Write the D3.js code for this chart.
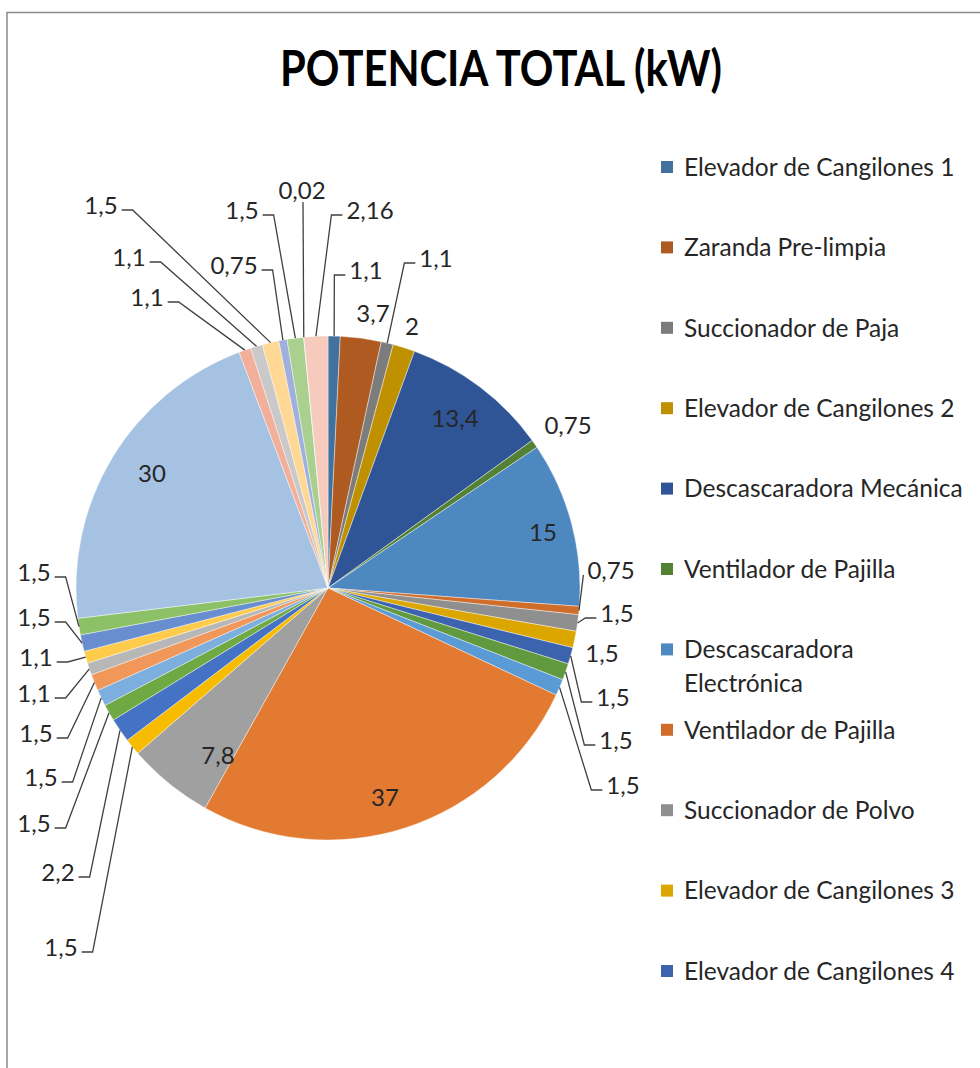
<!DOCTYPE html>
<html>
<head>
<meta charset="utf-8">
<script src="https://cdn.jsdelivr.net/npm/d3@7"></script>
<style>
  html, body { margin: 0; padding: 0; background: #fff; }
  svg { display: block; font-family: Lato, "Open Sans", sans-serif; }
</style>
</head>
<body>
<div id="graph"></div>
<script>
// Data (kW per equipment, clockwise from 12 o'clock)
const values = [1.1, 3.7, 1.1, 2, 13.4, 0.75, 15, 0.75, 1.5, 1.5, 1.5, 1.5, 1.5, 37, 7.8,
                1.5, 2.2, 1.5, 1.5, 1.5, 1.1, 1.1, 1.5, 1.5, 30, 1.1, 1.1, 1.5, 0.75, 1.5, 0.02, 2.16];

// Only the first 11 entries appear in the legend
const legendNames = ["Elevador de Cangilones 1", "Zaranda Pre-limpia", "Succionador de Paja",
                     "Elevador de Cangilones 2", "Descascaradora Mecánica", "Ventilador de Pajilla",
                     "Descascaradora\nElectrónica", "Ventilador de Pajilla", "Succionador de Polvo",
                     "Elevador de Cangilones 3", "Elevador de Cangilones 4"];

const chartTitle = "POTENCIA TOTAL (kW)";

// Slice colours (office palette with shades)
const sliceColors = ["#41719c", "#ae5a21", "#7c7c7c", "#bf9000", "#2f5597", "#548235",
                     "#4e88c0", "#d06d2b", "#8f8f8f", "#dca600", "#3c64ae", "#619a3e",
                     "#5b9bd5", "#e37a31", "#a0a0a0", "#f7bb00", "#4472c4", "#6ea944",
                     "#7cafdd", "#f1975a", "#b7b7b7", "#ffcb4a", "#698ed0", "#8cc168",
                     "#a5c2e3", "#f2b09a", "#c9c9c9", "#fed894", "#9fb0dc", "#a9d08e",
                     "#bdd7ee", "#f6cbbe"];

// Data label layout: [x, y, leader side, stub length]
// side: "" none, "L" stub left of text, "R" stub right of text, "B" line below text
const labelLayout = [
  [366, 270, "L", 11], [373, 313, "", 0], [436, 258, "L", 11], [412, 326, "", 0],
  [455, 418, "", 0], [568, 425, "", 0], [543, 532, "", 0], [611, 570, "L", 0],
  [617, 613, "L", 11], [602, 653, "", 0], [613, 697, "L", 11], [616, 740, "L", 11],
  [623, 785, "L", 11], [385, 797, "", 0], [218, 755, "", 0], [61, 947, "R", 11],
  [58, 872, "R", 11], [34, 823, "R", 11], [41, 777, "R", 11], [36, 733, "R", 11],
  [34, 693, "R", 11], [36, 657, "R", 11], [34, 617, "R", 11], [34, 572, "R", 11],
  [152, 473, "", 0], [147, 297, "R", 11], [129, 257, "R", 11], [101, 205, "R", 11],
  [234, 265, "R", 11], [242, 210, "R", 11], [302, 190, "B", 0], [370, 210, "L", 11]
];

const width = 980, height = 1068;
const cx = 328, cy = 588, radius = 252;

const svg = d3.select("#graph").append("svg")
    .attr("width", width)
    .attr("height", height);

// chart area border (only left and top edges are visible)
svg.append("path")
    .attr("d", "M7,1068 V12.5 H980")
    .attr("fill", "none")
    .attr("stroke", "#8c8c8c")
    .attr("stroke-width", 1.5);

svg.append("text")
    .attr("x", 501)
    .attr("y", 86)
    .attr("text-anchor", "middle")
    .attr("font-size", 49)
    .attr("font-weight", 700)
    .attr("fill", "#000")
    .attr("textLength", 442)
    .attr("lengthAdjust", "spacingAndGlyphs")
    .text(chartTitle);

const pie = d3.pie().sort(null).value(d => d);
const arcs = pie(values);
const arc = d3.arc().innerRadius(0).outerRadius(radius);

const pieG = svg.append("g").attr("transform", `translate(${cx},${cy})`);

pieG.selectAll("path.slice")
  .data(arcs)
  .join("path")
    .attr("class", "slice")
    .attr("d", arc)
    .attr("fill", (d, i) => sliceColors[i])
    .attr("stroke", "#fff")
    .attr("stroke-width", 0.6)
    .attr("stroke-opacity", 0.7);

// Data labels
const fmt = v => String(v).replace(".", ",");
const labelG = svg.append("g");

arcs.forEach((d, i) => {
  const [lx, ly, side, stub] = labelLayout[i];
  const t = labelG.append("text")
      .attr("x", lx)
      .attr("y", ly)
      .attr("text-anchor", "middle")
      .attr("dy", "0.36em")
      .attr("font-size", 24)
      .attr("fill", "#262626")
      .text(fmt(values[i]));

  if (!side) return;
  const bb = t.node().getBBox();
  const mid = (d.startAngle + d.endAngle) / 2;
  const ax = cx + radius * Math.sin(mid);
  const ay = cy - radius * Math.cos(mid);
  let pts;
  if (side === "R") {
    const sx = bb.x + bb.width + 4;
    pts = [[sx, ly + 5], [sx + stub, ly + 5], [ax, ay]];
  } else if (side === "L") {
    const sx = bb.x - 4;
    pts = [[sx, ly + 5], [sx - stub, ly + 5], [ax, ay]];
  } else {
    pts = [[lx + 1, ly + 12], [ax, ay]];
  }
  labelG.append("path")
      .attr("d", d3.line()(pts))
      .attr("fill", "none")
      .attr("stroke", "#404040")
      .attr("stroke-width", 1.3);
});

// Legend
const legendY = d3.scaleLinear().domain([0, 10]).range([167, 971]);
const legendG = svg.append("g");

legendNames.forEach((name, i) => {
  const y = legendY(i);
  legendG.append("rect")
      .attr("x", 661)
      .attr("y", y - 6)
      .attr("width", 12)
      .attr("height", 12)
      .attr("fill", sliceColors[i]);
  const t = legendG.append("text")
      .attr("x", 684)
      .attr("y", y)
      .attr("font-size", 24.5)
      .attr("fill", "#262626");
  name.split("\n").forEach((line, k) => {
    t.append("tspan")
        .attr("x", 684)
        .attr("dy", k === 0 ? "0.36em" : "1.36em")
        .text(line);
  });
});
</script>
</body>
</html>
